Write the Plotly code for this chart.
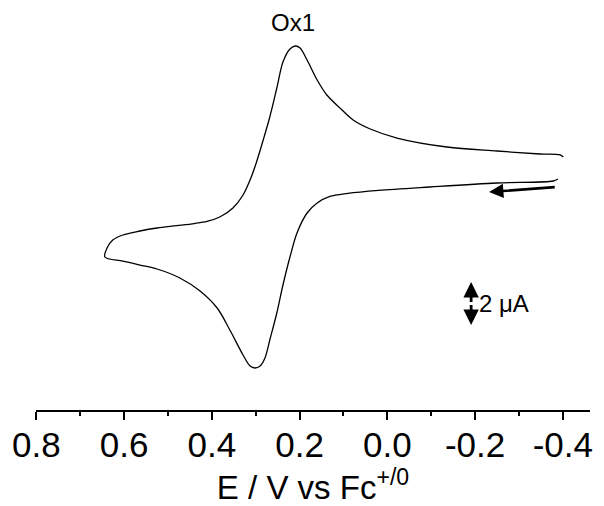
import plotly.graph_objects as go

# Cyclic voltammogram: potential (V vs Fc+/0) and current (uA)
# forward sweep (starts at the negative end, scans toward positive potentials)
e_fwd = [-0.389, -0.378, -0.250, -0.097, 0.020, 0.090, 0.131, 0.160, 0.183, 0.206, 0.222,
         0.238, 0.252, 0.268, 0.279, 0.290, 0.302, 0.313, 0.329, 0.359, 0.388,
         0.427, 0.473, 0.525, 0.564, 0.603, 0.644]
i_fwd = [-0.419, -0.512, -0.605, -0.791, -0.950, -1.090, -1.230, -1.535, -2.000, -2.930, -4.047,
         -5.349, -6.651, -7.907, -8.744, -9.116, -9.209, -9.116, -8.605, -7.442, -6.419,
         -5.628, -5.023, -4.605, -4.419, -4.233, -4.047]
# reverse sweep (back toward the negative end)
e_rev = [0.639, 0.626, 0.603, 0.564, 0.525, 0.480, 0.440, 0.411, 0.382, 0.352, 0.329,
         0.313, 0.299, 0.283, 0.268, 0.252, 0.238, 0.222, 0.210, 0.199, 0.183,
         0.160, 0.138, 0.108, 0.078, 0.039, -0.022, -0.136, -0.250, -0.348, -0.394, -0.401]
i_rev = [-3.628, -3.256, -3.023, -2.837, -2.698, -2.590, -2.490, -2.390, -2.186, -1.767, -1.163,
         -0.465, 0.326, 1.395, 2.465, 3.814, 5.023, 5.628, 5.767, 5.674, 5.116,
         4.186, 3.488, 2.884, 2.326, 1.907, 1.488, 1.070, 0.884, 0.744, 0.698, 0.605]

x_ticks = [0.8, 0.6, 0.4, 0.2, 0.0, -0.2, -0.4]
x_ticklabels = ["0.8", "0.6", "0.4", "0.2", "0.0", "-0.2", "-0.4"]

peak_label = "Ox1"
scale_label = "2 \u03bcA"
scale_uA = 2.0

FONT = "Liberation Sans, Arial, sans-serif"

fig = go.Figure()
fig.add_trace(go.Scatter(
    x=e_fwd + e_rev, y=i_fwd + i_rev, mode="lines",
    line=dict(color="black", width=1.3, shape="spline", smoothing=0.9),
    hoverinfo="skip", showlegend=False,
))

peak_idx = i_rev.index(max(i_rev))
annotations = [
    # peak label
    dict(x=e_rev[peak_idx] + 0.005, y=6.85, text=peak_label, showarrow=False,
         font=dict(family=FONT, size=24, color="black"), xanchor="center", yanchor="middle"),
    # scan direction arrow
    dict(x=-0.232, y=-1.023, ax=-0.385, ay=-0.791, xref="x", yref="y", axref="x", ayref="y",
         text="", showarrow=True, arrowhead=2, arrowsize=1.1, arrowwidth=2.6, arrowcolor="black"),
]
# scale bar: double-headed vertical arrow spanning 2 uA
sb_x, sb_c = -0.191, -6.209
for sgn in (1, -1):
    annotations.append(dict(
        x=sb_x, y=sb_c + sgn * scale_uA / 2, ax=sb_x, ay=sb_c, xref="x", yref="y",
        axref="x", ayref="y", text="", showarrow=True, arrowhead=2, arrowsize=1.1,
        arrowwidth=2.8, arrowcolor="black"))
annotations.append(dict(x=-0.205, y=sb_c, text=scale_label, showarrow=False,
                        xanchor="left", yanchor="middle",
                        font=dict(family=FONT, size=24, color="black")))

fig.update_layout(
    width=604, height=506,
    margin=dict(l=36, r=14, t=0, b=96),
    paper_bgcolor="white", plot_bgcolor="white",
    font=dict(family=FONT, color="black"),
    annotations=annotations,
    xaxis=dict(
        range=[0.801, -0.462], showgrid=False, zeroline=False,
        showline=True, linecolor="black", linewidth=1.5,
        ticks="outside", ticklen=8, tickwidth=1.5, tickcolor="black",
        tickvals=x_ticks, ticktext=x_ticklabels, ticklabelstandoff=-5,
        tickfont=dict(family=FONT, size=35, color="black"),
        minor=dict(dtick=0.1, tick0=0, ticks="outside", ticklen=4, tickwidth=1.5,
                   tickcolor="black", showgrid=False),
        title=dict(text="E / V vs Fc<sup>+/0</sup>", standoff=4,
                   font=dict(family=FONT, size=33, color="black")),
    ),
    yaxis=dict(range=[-11.163, 7.907], visible=False),
)

fig.write_html("out.html")
